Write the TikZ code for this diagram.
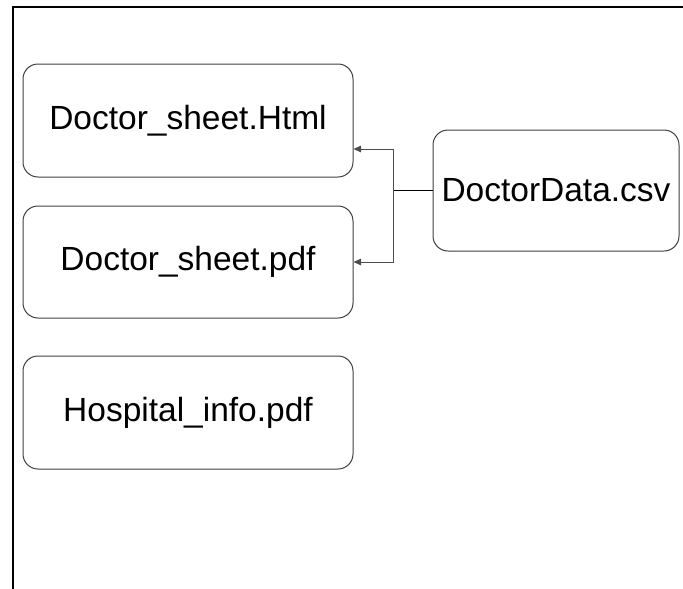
\documentclass[tikz,border=0pt]{standalone}
\usepackage{fontspec}
\setmainfont{Liberation Sans}
\usetikzlibrary{arrows.meta}
\begin{document}
\begin{tikzpicture}[x=1pt,y=-1pt,
  filebox/.style={draw=black!75, line width=1pt, rounded corners=15pt, fill=white,
    inner sep=0pt, font=\fontsize{33.5}{40}\selectfont},
  link/.style={draw=black!70, line width=1pt},
  tip/.style={-{Triangle[length=7.5pt,width=6.5pt]}}]
  \useasboundingbox (0,0) rectangle (683,589);
  % frame edges
  \coordinate (ftl) at (13,7);
  \coordinate (ftr) at (683,7);
  \coordinate (fbl) at (13,589);
  \draw[line width=1.5pt] (ftr) -- (ftl) -- (fbl);
  % file boxes
  \node[filebox, minimum width=330pt, minimum height=113pt] (html) at (188,120.5) {Doctor\_sheet.Html};
  \node[filebox, minimum width=330pt, minimum height=112pt] (pdf) at (188,262) {Doctor\_sheet.pdf};
  \node[filebox, minimum width=330pt, minimum height=113pt] (hosp) at (188,412.5) {Hospital\_info.pdf};
  \node[filebox, minimum width=246pt, minimum height=121pt] (csv) at (556,190.5) {DoctorData.csv};
  % connectors: one source fans out to two outputs
  \coordinate (fork) at (393,190.5);
  \coordinate (htmlin) at ([yshift=-28.5pt]html.east);
  \draw[link, draw=black] (csv.west) -- (fork);
  \draw[link, tip] (fork) |- (htmlin);
  \draw[link, tip] (fork) |- (pdf.east);
\end{tikzpicture}
\end{document}
